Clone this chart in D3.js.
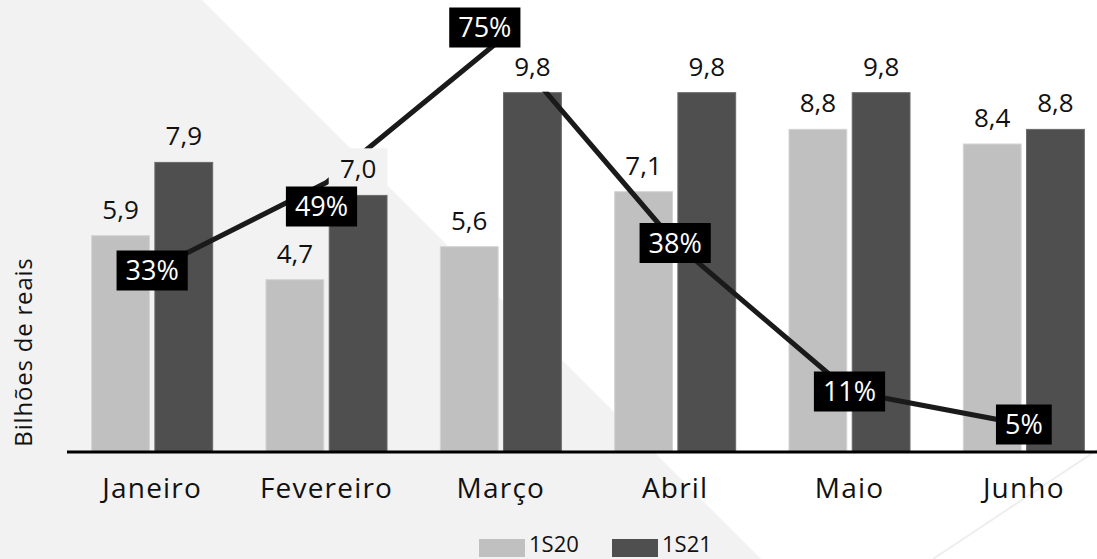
<!DOCTYPE html>
<html>
<head>
<meta charset="utf-8">
<script src="https://cdn.jsdelivr.net/npm/d3@7"></script>
<style>
  html, body { margin: 0; padding: 0; background: #fff; }
  svg { display: block; font-family: "Open Sans", sans-serif; }
</style>
</head>
<body>
<svg id="chart" width="1097" height="559"></svg>
<script>
// Monthly revenue, first half 2020 vs first half 2021 (billions of reais)
const months   = ['Janeiro', 'Fevereiro', 'Março', 'Abril', 'Maio', 'Junho'];
const series   = ['1S20', '1S21'];
const vals1S20 = [5.9, 4.7, 5.6, 7.1, 8.8, 8.4];
const vals1S21 = [7.9, 7.0, 9.8, 9.8, 9.8, 8.8];
const growth   = [33, 49, 75, 38, 11, 5];   // % change 1S21 vs 1S20

// Layout
const W = 1097, H = 559;
const plotBase = 452, plotTop = 12;
const colors = {'1S20': '#c0c0c0', '1S21': '#4f4f4f'};
const strokes = {'1S20': '#d4d4d4', '1S21': '#6a6a6a'};
const bgGray = '#f2f2f2';
// a couple of growth labels were nudged off their point in the original
const pctNudge = {'Fevereiro': [-5, 24], 'Março': [-16, -12]};

const svg = d3.select('#chart');

// Background: grey wedge on the left, faint stroke bottom right
const wedge = [[0, 0], [202, 0], [761, H], [0, H]];
svg.append('polygon')
   .attr('points', wedge.map(p => p.join(',')).join(' '))
   .attr('fill', bgGray);
svg.append('line')
   .attr('x1', 933).attr('y1', H).attr('x2', W).attr('y2', 450)
   .attr('stroke', '#eeeeee').attr('stroke-width', 2);

// colour of the background at a point (inside the wedge or not)
const bgAt = (px, py) => d3.polygonContains(wedge, [px, py]) ? bgGray : '#ffffff';

// Scales
const x = d3.scaleBand().domain(months).range([65, 1111])
            .paddingInner(0.3).paddingOuter(0.15);
const xs = d3.scaleBand().domain(series).range([0, x.bandwidth()]).paddingInner(0.07);
const y  = d3.scaleLinear().domain([0, 12]).range([plotBase, plotTop]);
const y2 = d3.scaleLinear().domain([0, 80]).range([plotBase, plotTop]);

const rows = months.map((m, i) => ({month: m, '1S20': vals1S20[i], '1S21': vals1S21[i], g: growth[i]}));

// Bars
const groups = svg.append('g').selectAll('g')
   .data(rows).enter().append('g')
   .attr('transform', d => `translate(${x(d.month)},0)`);

groups.selectAll('rect')
   .data(d => series.map(s => ({s: s, v: d[s]})))
   .enter().append('rect')
   .attr('x', d => xs(d.s) + 0.5)
   .attr('width', xs.bandwidth() - 1)
   .attr('y', d => y(d.v))
   .attr('height', d => plotBase - y(d.v))
   .attr('fill', d => colors[d.s])
   .attr('stroke', d => strokes[d.s])
   .attr('stroke-width', 1);

// X axis
const xAxis = d3.axisBottom(x).tickSize(0).tickPadding(26);
const gx = svg.append('g').attr('transform', `translate(0,${plotBase})`).call(xAxis);
gx.select('.domain').remove();
gx.selectAll('text')
  .attr('font-family', '"Open Sans", sans-serif')
  .attr('font-size', 28).attr('letter-spacing', 1.2)
  .attr('fill', '#111');
svg.append('line')
   .attr('x1', 67).attr('x2', W).attr('y1', plotBase).attr('y2', plotBase)
   .attr('stroke', '#000').attr('stroke-width', 3);

// Y axis title
svg.append('text')
   .attr('transform', 'translate(32,352) rotate(-90)')
   .attr('text-anchor', 'middle')
   .attr('font-size', 24).attr('letter-spacing', 0.8)
   .attr('fill', '#111')
   .text('Bilhões de reais');

// Growth line
const linePts = rows.map(d => [x(d.month) + x.bandwidth() / 2, y2(d.g)]);
svg.append('path')
   .attr('d', d3.line()(linePts))
   .attr('fill', 'none')
   .attr('stroke', '#1a1a1a').attr('stroke-width', 5)
   .attr('stroke-linejoin', 'round').attr('stroke-linecap', 'round');

// Value labels above bars (1S21 labels sit on a background box)
rows.forEach(d => {
  series.forEach(s => {
    const cx = x(d.month) + xs(s) + xs.bandwidth() / 2;
    const ty = y(d[s]);
    if (s === '1S21') {
      svg.append('rect')
         .attr('x', x(d.month) + xs(s)).attr('width', xs.bandwidth())
         .attr('y', ty - 47).attr('height', 46)
         .attr('fill', bgAt(cx, ty - 24));
    }
    svg.append('text')
       .attr('x', cx).attr('y', ty - 17)
       .attr('text-anchor', 'middle')
       .attr('font-size', 26).attr('fill', '#111')
       .text(d3.format('.1f')(d[s]).replace('.', ','));
  });
});

// Growth labels: white text in black boxes
rows.forEach((d, i) => {
  const nudge = pctNudge[d.month] || [0, 0];
  const cx = linePts[i][0] + nudge[0];
  const cy = linePts[i][1] + nudge[1];
  const g = svg.append('g').attr('transform', `translate(${cx},${cy})`);
  const box = g.append('rect').attr('fill', '#000');
  const t = g.append('text')
     .attr('text-anchor', 'middle').attr('dy', '0.36em')
     .attr('font-size', 27).attr('fill', '#fff')
     .text(d.g + '%');
  const tw = t.node().getComputedTextLength();
  box.attr('x', -tw / 2 - 9).attr('width', tw + 18)
     .attr('y', -20).attr('height', 40);
});

// Legend (sits right on the bottom edge, as in the original)
const legend = svg.append('g');
const legX = {'1S20': 479, '1S21': 612};
series.forEach(s => {
  legend.append('rect')
        .attr('x', legX[s]).attr('y', 539).attr('width', 46).attr('height', 18)
        .attr('fill', colors[s]);
  legend.append('text')
        .attr('x', legX[s] + 50).attr('y', 552)
        .attr('font-size', 22).attr('fill', '#111')
        .text(s);
});
</script>
</body>
</html>
